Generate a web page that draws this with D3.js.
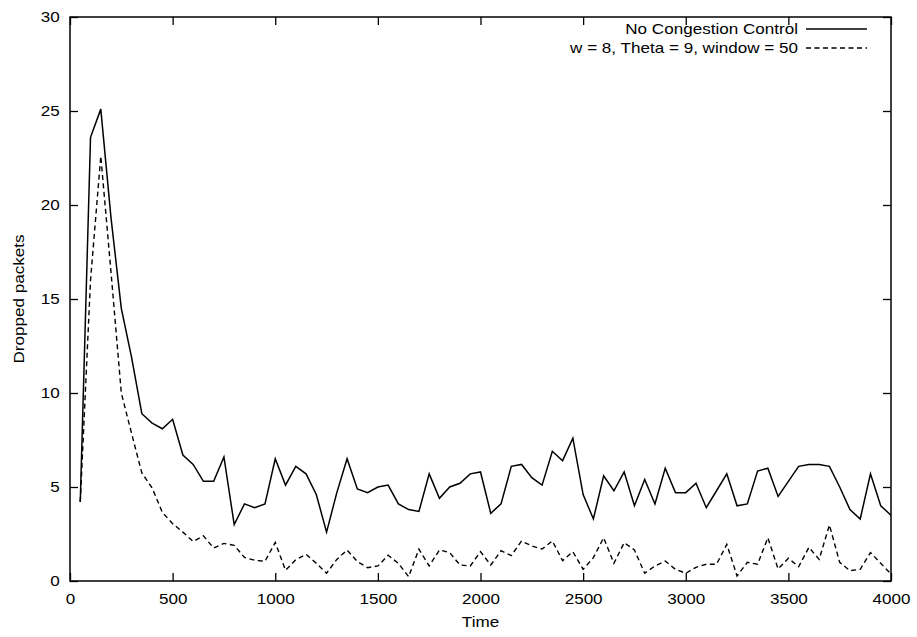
<!DOCTYPE html>
<html>
<head>
<meta charset="utf-8">
<script src="https://cdn.jsdelivr.net/npm/d3@7"></script>
<style>
  body { margin: 0; background: #fff; }
  text { font-family: "Liberation Sans", Arial, Helvetica, sans-serif; fill: #000; }
</style>
</head>
<body>
<svg id="chart" width="917" height="637"></svg>
<script>
// Sample times (simulation time units)
const times = [
  50, 100, 150, 200, 250, 300, 350, 400, 450, 500,
  550, 600, 650, 700, 750, 800, 850, 900, 950, 1000,
  1050, 1100, 1150, 1200, 1250, 1300, 1350, 1400, 1450, 1500,
  1550, 1600, 1650, 1700, 1750, 1800, 1850, 1900, 1950, 2000,
  2050, 2100, 2150, 2200, 2250, 2300, 2350, 2400, 2450, 2500,
  2550, 2600, 2650, 2700, 2750, 2800, 2850, 2900, 2950, 3000,
  3050, 3100, 3150, 3200, 3250, 3300, 3350, 3400, 3450, 3500,
  3550, 3600, 3650, 3700, 3750, 3800, 3850, 3900, 3950, 4000
];

// Dropped packets without any congestion control
const noControl = [
  4.2, 23.6, 25.1, 19.3, 14.5, 11.9, 8.9, 8.4, 8.1, 8.6,
  6.7, 6.2, 5.3, 5.3, 6.6, 3.0, 4.1, 3.9, 4.1, 6.5,
  5.1, 6.1, 5.7, 4.6, 2.6, 4.7, 6.5, 4.9, 4.7, 5.0,
  5.1, 4.1, 3.8, 3.7, 5.7, 4.4, 5.0, 5.2, 5.7, 5.8,
  3.6, 4.1, 6.1, 6.2, 5.5, 5.1, 6.9, 6.4, 7.6, 4.6,
  3.3, 5.6, 4.8, 5.8, 4.0, 5.4, 4.1, 6.0, 4.7, 4.7,
  5.2, 3.9, 4.8, 5.7, 4.0, 4.1, 5.85, 6.0, 4.5, 5.3,
  6.1, 6.2, 6.2, 6.1, 5.0, 3.8, 3.3, 5.7, 4.0, 3.5
];

// Dropped packets with congestion control (w = 8, Theta = 9, window = 50)
const withControl = [
  4.2, 16.0, 22.6, 16.4, 10.0, 7.85, 5.75, 4.95, 3.65, 3.05,
  2.6, 2.1, 2.4, 1.75, 2.0, 1.9, 1.25, 1.1, 1.05, 2.05,
  0.57, 1.13, 1.42, 0.94, 0.41, 1.15, 1.65, 1.03, 0.71, 0.80,
  1.37, 0.94, 0.23, 1.70, 0.80, 1.65, 1.51, 0.85, 0.80, 1.56,
  0.85, 1.61, 1.35, 2.13, 1.86, 1.70, 2.13, 1.08, 1.56, 0.62,
  1.24, 2.30, 0.94, 2.04, 1.65, 0.41, 0.80, 1.06, 0.62, 0.41,
  0.73, 0.89, 0.89, 1.95, 0.27, 0.99, 0.89, 2.30, 0.64, 1.21,
  0.76, 1.79, 1.15, 2.98, 0.99, 0.55, 0.62, 1.51, 0.94, 0.37
];

const xTicks = [0, 500, 1000, 1500, 2000, 2500, 3000, 3500, 4000];
const yTicks = [0, 5, 10, 15, 20, 25, 30];
const seriesNames = ["No Congestion Control", "w = 8, Theta = 9, window = 50"];

const svg = d3.select("#chart");
const margin = { left: 70, right: 26, top: 17, bottom: 56 };
const W = 917, H = 637;
const x = d3.scaleLinear().domain([0, 4000]).range([margin.left, W - margin.right]);
const y = d3.scaleLinear().domain([0, 30]).range([H - margin.bottom, margin.top]);

const SX = 1.22;           // wide sans lettering
const FS = "14px";
const tickLen = 8;

// axes, ticks pointing inwards on all four sides
const gBottom = svg.append("g").attr("transform", `translate(0,${y(0)})`)
  .call(d3.axisBottom(x).tickValues(xTicks).tickSizeInner(-tickLen).tickSizeOuter(0).tickPadding(13).tickFormat(d3.format("d")));
const gTop = svg.append("g").attr("transform", `translate(0,${y(30)})`)
  .call(d3.axisTop(x).tickValues(xTicks).tickSizeInner(-tickLen).tickSizeOuter(0).tickFormat(""));
const gLeft = svg.append("g").attr("transform", `translate(${x(0)},0)`)
  .call(d3.axisLeft(y).tickValues(yTicks).tickSizeInner(-tickLen).tickSizeOuter(0).tickPadding(8.5).tickFormat(d3.format("d")));
const gRight = svg.append("g").attr("transform", `translate(${x(4000)},0)`)
  .call(d3.axisRight(y).tickValues(yTicks).tickSizeInner(-tickLen).tickSizeOuter(0).tickFormat(""));

[gBottom, gTop, gLeft, gRight].forEach(g => {
  g.select(".domain").remove();
  g.selectAll(".tick line").attr("stroke", "#000").attr("stroke-width", 1.3);
  g.selectAll("text").attr("font-size", FS).attr("font-family", null).attr("transform", `scale(${SX},1)`);
});
[gTop, gRight].forEach(g => g.selectAll("text").remove());

// frame
svg.append("rect")
  .attr("x", x(0)).attr("y", y(30))
  .attr("width", x(4000) - x(0)).attr("height", y(0) - y(30))
  .attr("fill", "none").attr("stroke", "#000").attr("stroke-width", 1.5);

// data lines
const line = d3.line().x((d, i) => x(times[i])).y(d => y(d));
svg.append("path").datum(noControl)
  .attr("d", line).attr("fill", "none").attr("stroke", "#000")
  .attr("stroke-width", 1.5).attr("stroke-linejoin", "miter");
svg.append("path").datum(withControl)
  .attr("d", line).attr("fill", "none").attr("stroke", "#000")
  .attr("stroke-width", 1.4).attr("stroke-dasharray", "5,3.5");

// axis titles
svg.append("text")
  .attr("transform", `translate(${(x(0) + x(4000)) / 2},627) scale(${SX},1)`)
  .attr("text-anchor", "middle").attr("font-size", FS).text("Time");
svg.append("text")
  .attr("transform", `translate(24,${(y(0) + y(30)) / 2}) rotate(-90) scale(${SX},1)`)
  .attr("text-anchor", "middle").attr("font-size", FS).text("Dropped packets");

// legend
const legend = svg.append("g");
const legendRows = [
  { name: seriesNames[0], dash: null, yy: 29 },
  { name: seriesNames[1], dash: "5,3.5", yy: 48 }
];
legendRows.forEach(r => {
  legend.append("text")
    .attr("transform", `translate(798,${r.yy + 5}) scale(${SX},1)`)
    .attr("text-anchor", "end").attr("font-size", FS).text(r.name);
  legend.append("line")
    .attr("x1", 806).attr("x2", 867).attr("y1", r.yy).attr("y2", r.yy)
    .attr("stroke", "#000").attr("stroke-width", 1.4)
    .attr("stroke-dasharray", r.dash);
});
</script>
</body>
</html>
